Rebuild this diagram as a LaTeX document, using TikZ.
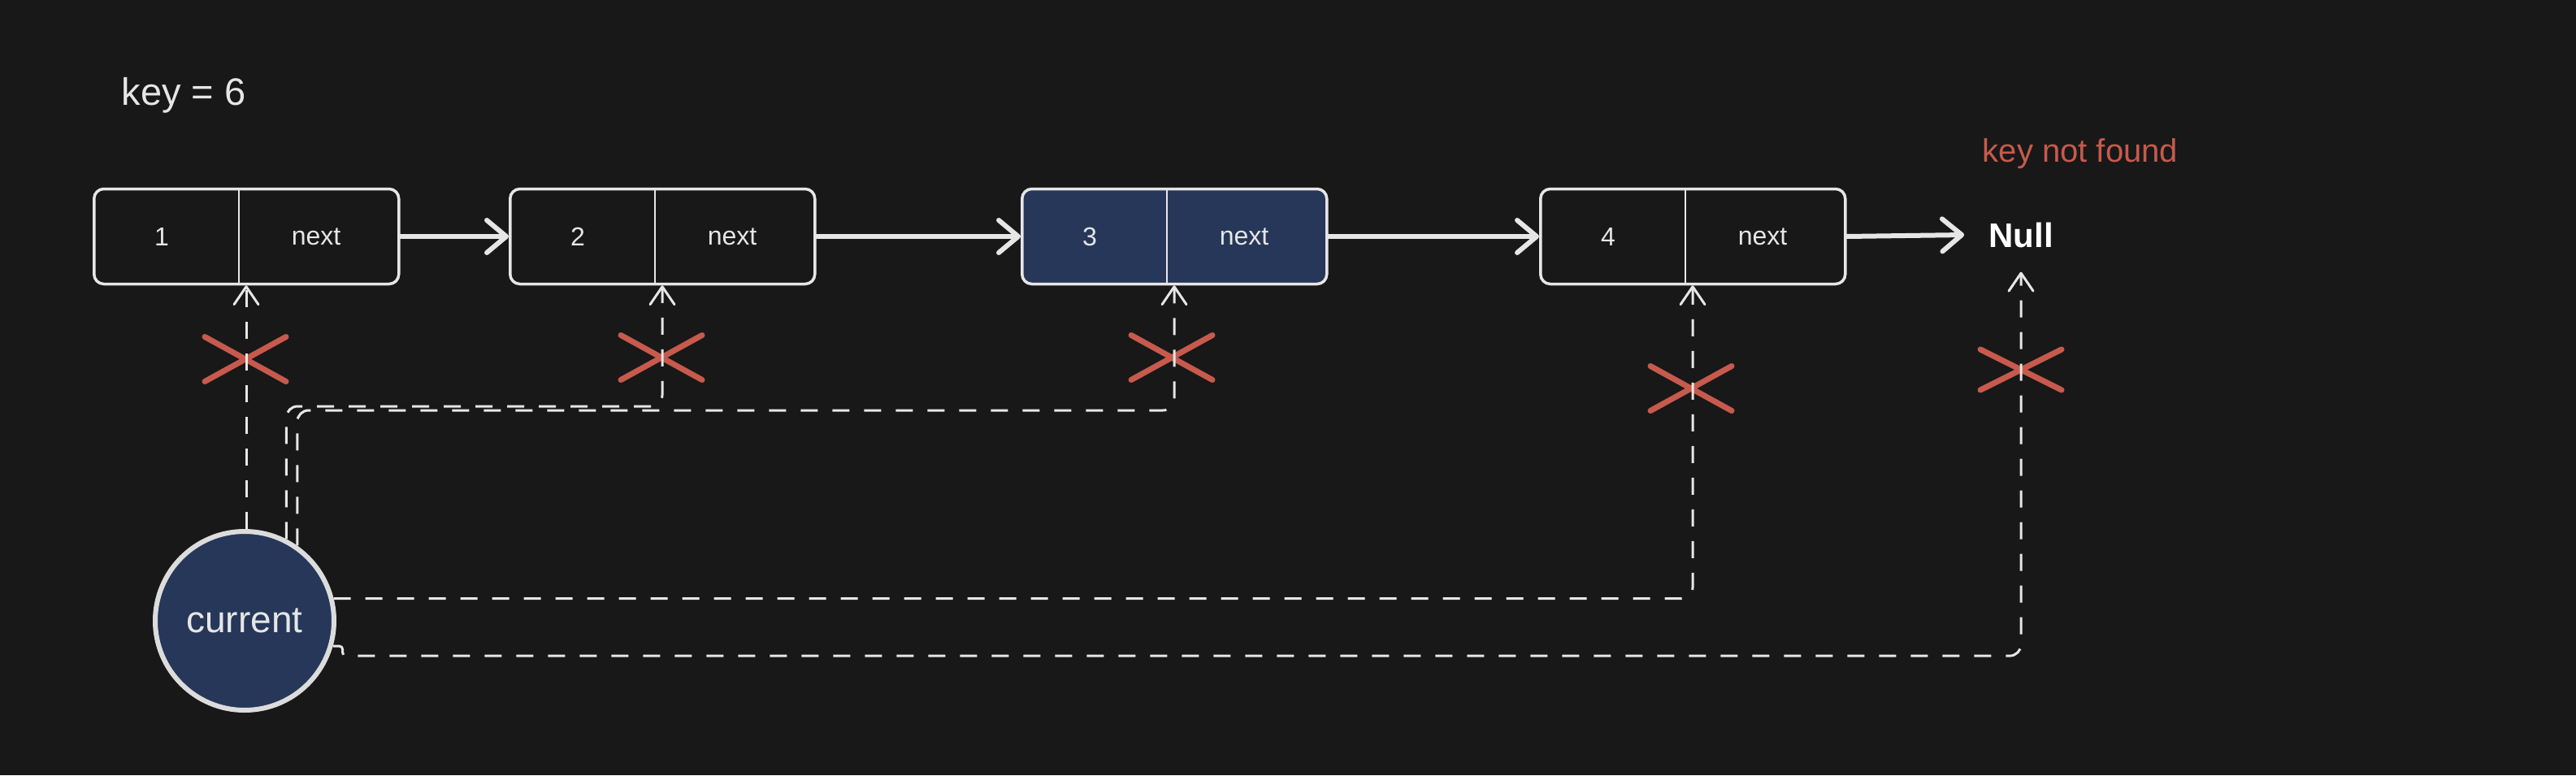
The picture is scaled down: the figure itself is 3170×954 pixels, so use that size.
\documentclass[tikz,border=0pt]{standalone}
\usepackage{fontspec}
\setmainfont{Liberation Sans}
\usepackage{xcolor}
\usepackage{tikz}
\usetikzlibrary{arrows.meta,calc,shapes.misc}
\definecolor{CanvasBlack}{HTML}{181818}
\definecolor{NodeNavy}{HTML}{263759}
\definecolor{StrokeWhite}{HTML}{E6E6E6}
\definecolor{RingGray}{HTML}{DCDCDC}
\definecolor{CrossRed}{HTML}{C75A4D}
\tikzset{
	cellbox/.style={draw=StrokeWhite, line width=3.5pt, rounded corners=12pt, minimum width=375pt, minimum height=117pt, inner sep=0pt, anchor=west},
	celltext/.style={text=StrokeWhite, font=\fontsize{32}{38}\selectfont, inner sep=0pt},
	divider/.style={draw=StrokeWhite, line width=2pt},
	link/.style={draw=StrokeWhite, line width=6pt, line cap=round, -{Straight Barb[length=24pt,width=40pt,round]}},
	pointer/.style={draw=StrokeWhite, line width=3pt, dash pattern=on 21pt off 18pt, rounded corners=14pt, -{Straight Barb[length=22pt,width=30pt,round]}},
	xmark/.style={cross out, draw=CrossRed, line width=7pt, line cap=round, minimum width=100pt, minimum height=55pt, inner sep=0pt, outer sep=0pt}
}
\newcommand{\listnode}[4]{%
	\node[cellbox, fill=#4] (#1) at (#2,291) {};
	\node[celltext] (#1val) at ($(#1.west)+(85,0)$) {#3};
	\node[celltext] (#1nxt) at ($(#1.west)+(275,0)$) {next};
	\draw[divider] ($(#1.north west)+(180,0)$) -- ($(#1.south west)+(180,0)$);
	\coordinate (#1ptr) at ($(#1.south west)+(189,0)$);
}

\begin{document}
\begin{tikzpicture}[x=1pt,y=-1pt]
	\fill[CanvasBlack] (0,0) rectangle (3170,954);
	\useasboundingbox (0,0) rectangle (3170,954);

	\node[text=StrokeWhite, font=\fontsize{47}{56}\selectfont, inner sep=0pt] (key) at (226,117) {key = 6};
	\node[text=CrossRed, font=\fontsize{40}{48}\selectfont, inner sep=0pt] (status) at (2560,189) {key not found};

	\listnode{one}{114}{1}{CanvasBlack}
	\listnode{two}{626}{2}{CanvasBlack}
	\listnode{three}{1256}{3}{NodeNavy}
	\listnode{four}{1894}{4}{CanvasBlack}
	\node[text=white, font=\bfseries\fontsize{42}{50}\selectfont, inner sep=30pt] (null) at (2487,289) {Null};

	\foreach \from/\to in {one/two,two/three,three/four} {
		\draw[link] (\from.east) -- (\to.west);
	}
	\draw[link] (four.east) -- (null.west);

	\node[circle, draw=RingGray, fill=NodeNavy, line width=6pt, minimum size=220pt, inner sep=0pt, text=StrokeWhite, font=\fontsize{46}{55}\selectfont] (current) at (301,764) {current};

	% failed comparisons
	\node[xmark] (crossone) at (302,442) {};
	\node[xmark] (crosstwo) at (814,440) {};
	\node[xmark] (crossthree) at (1442,440) {};
	\node[xmark] (crossfour) at (2081,478) {};
	\node[xmark, minimum height=50pt] (crossnull) at (2487,455) {};

	% current pointer moves
	\coordinate (laneA) at (0,500);
	\coordinate (laneB) at (0,505);
	\draw[pointer] (oneptr |- current.north) -- (oneptr);
	\draw[pointer] (current.63) |- (twoptr |- laneA) -- (twoptr);
	\draw[pointer] (current.55) |- (threeptr |- laneB) -- (threeptr);
	\draw[pointer] (current.14) -| (fourptr);
	\draw[pointer] (current.-16) [rounded corners=4pt] -- ++(12,0) -- ++(0,12) [rounded corners=14pt] -| (null.south);
\end{tikzpicture}
\end{document}
